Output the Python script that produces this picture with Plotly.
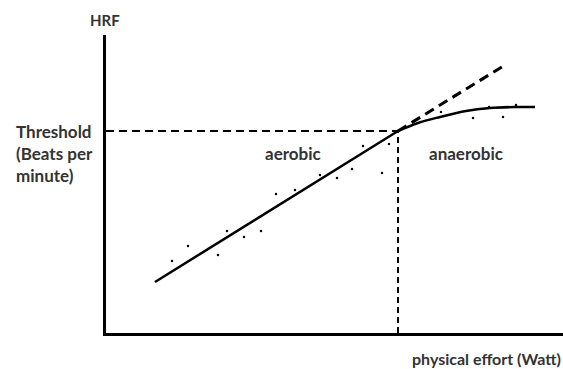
import plotly.graph_objects as go

# data (arbitrary units: effort vs heart rate)
aerobic_x = [49, 292]
aerobic_y = [51, 202]
anaerobic_x = [292, 312, 334, 360, 384, 410, 429]
anaerobic_y = [202, 210, 216, 222, 225, 226, 226]
extrap_x = [292, 399]
extrap_y = [202, 268]
dots_x = [66, 82, 112, 121, 138, 155, 170, 189, 214, 231, 246, 257, 276, 283, 335, 367, 383, 397, 410]
dots_y = [72, 87, 78, 102, 96, 102, 139, 143, 158, 155, 164, 187, 160, 189, 221, 215, 226, 216, 228]
threshold_x = 292
threshold_y = 202

W, H = 563, 369
L, T, R = 106, 35, 0
B = H - 333
XMAX, YMAX = 457, 298


def py(pix):  # page pixel y -> paper y
    return (333 - pix) / YMAX


def px(pix):  # page pixel x -> paper x
    return (pix - 106) / XMAX


fig = go.Figure()
fig.add_trace(go.Scatter(x=[0, threshold_x], y=[threshold_y, threshold_y], mode="lines",
                         line=dict(color="black", width=2, dash="8px,5px")))
fig.add_trace(go.Scatter(x=[threshold_x, threshold_x], y=[0, threshold_y], mode="lines",
                         line=dict(color="black", width=2, dash="6px,4px")))
fig.add_trace(go.Scatter(x=extrap_x, y=extrap_y, mode="lines",
                         line=dict(color="black", width=3, dash="10px,6px")))
fig.add_trace(go.Scatter(x=aerobic_x, y=aerobic_y, mode="lines",
                         line=dict(color="black", width=2.5)))
fig.add_trace(go.Scatter(x=anaerobic_x, y=anaerobic_y, mode="lines",
                         line=dict(color="black", width=2.5, shape="spline")))
fig.add_trace(go.Scatter(x=dots_x, y=dots_y, mode="markers",
                         marker=dict(color="black", size=2.5)))

font = dict(family="Lato, 'Open Sans', sans-serif", color="#333333")
ann = []
ann.append(dict(text="<b>HRF</b>", xref="paper", yref="paper", x=px(105), y=py(20),
                showarrow=False, font=dict(size=15, **font), xanchor="center", yanchor="middle"))
ann.append(dict(text="<b>Threshold<br>(Beats per<br>minute)</b>", xref="paper", yref="y",
                x=px(14), y=threshold_y, showarrow=False, align="left",
                font=dict(size=17, **font), xanchor="left", yanchor="top", yshift=12))
ann.append(dict(text="<b>aerobic</b>", xref="x", yref="y", x=187, y=180, showarrow=False,
                font=dict(size=17, **font), xanchor="center", yanchor="middle"))
ann.append(dict(text="<b>anaerobic</b>", xref="x", yref="y", x=360, y=180, showarrow=False,
                font=dict(size=17, **font), xanchor="center", yanchor="middle"))
ann.append(dict(text="<b>physical effort (Watt)</b>", xref="paper", yref="paper", x=1.0,
                y=py(358), showarrow=False,
                font=dict(size=16, **font), xanchor="right", yanchor="middle"))

fig.update_layout(
    width=W, height=H, margin=dict(l=L, r=R, t=T, b=B),
    paper_bgcolor="white", plot_bgcolor="white", showlegend=False,
    annotations=ann,
    xaxis=dict(range=[0, XMAX], showline=True, linecolor="black", linewidth=3,
               showgrid=False, zeroline=False, showticklabels=False, ticks=""),
    yaxis=dict(range=[0, YMAX], showline=True, linecolor="black", linewidth=3,
               showgrid=False, zeroline=False, showticklabels=False, ticks=""),
)
fig.write_html("out.html", config={"displayModeBar": False},
               post_script="document.body.style.margin='0';document.body.style.overflow='hidden';")
